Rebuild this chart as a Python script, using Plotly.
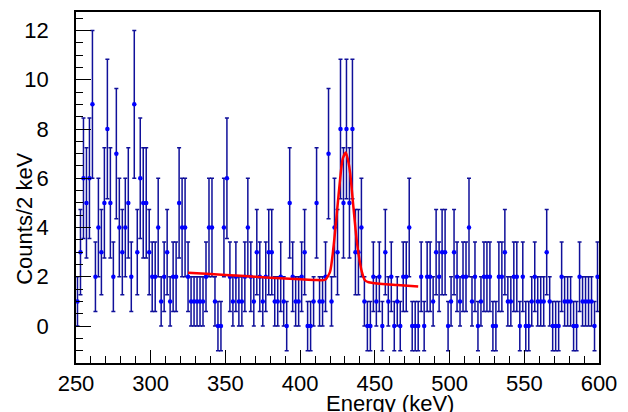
import plotly.graph_objects as go

# histogram: 2 keV bins from 250 to 600 keV
bin_start = 250
bin_width = 2
counts = [
    1, 3, 6, 5, 6, 9, 2, 4, 3, 5, 8, 5, 2, 7, 4, 3, 4, 5, 2, 9, 3, 6, 5, 5, 3, 2, 2, 4, 1, 2,
    3, 1, 2, 2, 5, 4, 4, 2, 1, 1, 1, 1, 1, 2, 4, 4, 1, 0, 0, 4, 6, 2, 1, 2, 1, 1, 2, 4, 2, 1,
    3, 2, 1, 2, 3, 3, 1, 1, 2, 1, 0, 5, 2, 1, 1, 2, 3, 0, 0, 1, 5, 1, 1, 2, 7, 1, 4, 3, 8, 5,
    8, 5, 8, 3, 3, 4, 1, 0, 0, 2, 1, 2, 0, 3, 1, 2, 0, 1, 0, 2, 2, 4, 0, 0, 0, 2, 0, 2, 2, 1,
    3, 2, 3, 3, 0, 1, 3, 2, 1, 2, 2, 4, 1, 2, 0, 1, 2, 2, 2, 0, 0, 2, 2, 3, 1, 1, 2, 2, 0, 2,
    0, 0, 1, 2, 1, 1, 1, 3, 1, 0, 0, 0, 2, 1, 1, 1, 0, 0, 2, 1, 1, 1, 1, 0, 2,
]

# fit curve (linear background + peak)
fit_energy = [325, 340, 360, 380, 400, 410, 416.7, 420, 422.3, 424.6, 426.8, 428.5,
              430.6, 432.5, 433.5, 435.7, 438, 441.3, 443.5, 445.8, 455, 465, 479]
fit_counts = [2.16, 2.11, 2.04, 1.96, 1.90, 1.87, 1.88, 2.2, 3.2, 4.6, 6.0, 6.8,
              7.05, 6.6, 6.2, 4.8, 3.4, 2.2, 1.85, 1.78, 1.71, 1.67, 1.61]

energy = [bin_start + bin_width * (i + 0.5) for i in range(len(counts))]
errors = [c ** 0.5 if c > 0 else 1.0 for c in counts]

fig = go.Figure()

fig.add_trace(go.Scatter(
    x=energy, y=counts, mode="markers",
    marker=dict(color="#0000ff", size=4.5),
    error_y=dict(type="data", array=errors, visible=True,
                 color="#10109a", thickness=1.5, width=2),
    showlegend=False,
))

fig.add_trace(go.Scatter(
    x=fit_energy, y=fit_counts, mode="lines",
    line=dict(color="#ff0000", width=2.5, shape="spline", smoothing=0.6),
    showlegend=False,
))

font = dict(family="Liberation Sans, Arial, sans-serif", size=22, color="black")

fig.update_xaxes(
    range=[250, 600], tick0=250, dtick=50,
    ticks="inside", ticklen=13, tickwidth=1.2, tickcolor="black",
    minor=dict(dtick=10, ticks="inside", ticklen=7, tickwidth=1.2, tickcolor="black"),
    showline=True, linecolor="black", linewidth=1.5, mirror=True,
    showgrid=False, zeroline=False, tickfont=font,
)
fig.update_yaxes(
    range=[-1.5, 12.75], tick0=0, dtick=2,
    ticks="inside", ticklen=15, tickwidth=1.2, tickcolor="black",
    minor=dict(dtick=0.5, ticks="inside", ticklen=7, tickwidth=1.2, tickcolor="black"),
    showline=True, linecolor="black", linewidth=1.5, mirror=True,
    showgrid=False, zeroline=False, tickfont=font, ticklabelstandoff=21,
)

fig.add_annotation(text="Energy (keV)", xref="paper", yref="paper",
                   x=0.6, y=-0.116, xanchor="center", yanchor="middle",
                   showarrow=False, font=font)
fig.add_annotation(text="Counts/2 keV", xref="paper", yref="paper",
                   x=-0.1, y=0.41, xanchor="center", yanchor="middle",
                   textangle=-90, showarrow=False, font=font)

fig.update_layout(
    width=628, height=412,
    margin=dict(l=76, r=29, t=10, b=49),
    plot_bgcolor="white", paper_bgcolor="white",
)

fig.write_html("out.html", config={"displayModeBar": False},
               post_script="document.body.style.margin='0';")
